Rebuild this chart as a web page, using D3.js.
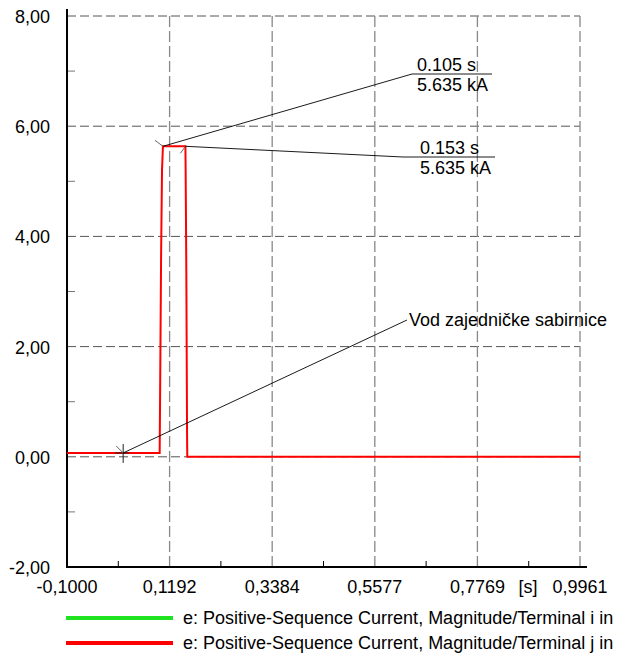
<!DOCTYPE html>
<html>
<head>
  <meta charset="utf-8">
  <title>Positive-Sequence Current</title>
  <script src="https://d3js.org/d3.v7.min.js"></script>
  <style>
    body { margin: 0; background: #fff; }
    text { font-family: "Liberation Sans", Arial, sans-serif; }
  </style>
</head>
<body>
  <svg width="625" height="658"></svg>
  <script>
    // data
    const xTicks = [-0.1, 0.1192, 0.3384, 0.5577, 0.7769, 0.9961];
    const yTicks = [-2, 0, 2, 4, 6, 8];
    const timeRed = [-0.1, 0.098, 0.099, 0.101, 0.103, 0.105, 0.153, 0.1535, 0.155, 0.1565, 0.157, 0.9961];
    const valueRed = [0.07, 0.07, 1.2, 3.6, 5.2, 5.635, 5.635, 5.2, 3.3, 0.44, 0, 0];
    const legendLabels = [
      "e: Positive-Sequence Current, Magnitude/Terminal i in",
      "e: Positive-Sequence Current, Magnitude/Terminal j in"
    ];
    const legendColors = ["#1ee31e", "#ff0000"];
    const peakMarkers = [
      { t: 0.105, v: 5.635, text: ["0.105 s", "5.635 kA"] },
      { t: 0.153, v: 5.635, text: ["0.153 s", "5.635 kA"] }
    ];
    const crossMarker = { t: 0.02, v: 0.07, text: "Vod zajedničke sabirnice" };

    const svg = d3.select("svg");
    const x = d3.scaleLinear().domain([-0.1, 0.9961]).range([67, 580]);
    const y = d3.scaleLinear().domain([-2, 8]).range([567, 16]);
    const fmt = d => d3.format(".4f")(d).replace(".", ",").replace("−", "-");
    const fmtY = d => d3.format(".2f")(d).replace(".", ",").replace("−", "-");
    const fs = 18;

    // grid
    svg.selectAll(".hgrid")
      .data(yTicks.filter(d => d > -2))
      .enter().append("line")
      .attr("x1", x(-0.1)).attr("x2", x(0.9961))
      .attr("y1", d => y(d)).attr("y2", d => y(d))
      .attr("stroke", "#555").attr("stroke-dasharray", "9,4");

    svg.selectAll(".vgrid")
      .data(xTicks.slice(1))
      .enter().append("line")
      .attr("x1", d => x(d)).attr("x2", d => x(d))
      .attr("y1", y(8)).attr("y2", y(-2))
      .attr("stroke", "#888").attr("stroke-width", 1.3).attr("stroke-dasharray", "11,4");

    // minor ticks
    svg.selectAll(".ymin")
      .data([-1, 1, 3, 5, 7])
      .enter().append("line")
      .attr("x1", 67).attr("x2", 75)
      .attr("y1", d => y(d)).attr("y2", d => y(d))
      .attr("stroke", "#777");

    const minorX = d3.range(xTicks.length - 1).map(i => (xTicks[i] + xTicks[i + 1]) / 2);
    svg.selectAll(".xmin")
      .data(minorX)
      .enter().append("line")
      .attr("x1", d => x(d)).attr("x2", d => x(d))
      .attr("y1", y(-2)).attr("y2", y(-2) - 6)
      .attr("stroke", "#000");

    // axes
    svg.append("line").attr("x1", 67).attr("x2", 67).attr("y1", 9).attr("y2", 568)
      .attr("stroke", "#000").attr("stroke-width", 2);
    svg.append("line").attr("x1", 66).attr("x2", 587).attr("y1", 567).attr("y2", 567)
      .attr("stroke", "#000").attr("stroke-width", 2);

    svg.selectAll(".ylab")
      .data(yTicks)
      .enter().append("text")
      .attr("x", 50).attr("y", d => y(d) + 7)
      .attr("text-anchor", "end").attr("font-size", fs)
      .text(fmtY);

    svg.selectAll(".xlab")
      .data(xTicks)
      .enter().append("text")
      .attr("x", d => x(d)).attr("y", 593)
      .attr("text-anchor", "middle").attr("font-size", fs)
      .text(fmt);

    svg.append("text").attr("x", 528).attr("y", 593)
      .attr("text-anchor", "middle").attr("font-size", fs).text("[s]");

    // red curve
    const line = d3.line().x(d => x(d[0])).y(d => y(d[1]));
    svg.append("path")
      .datum(d3.zip(timeRed, valueRed))
      .attr("d", line)
      .attr("fill", "none").attr("stroke", "#ff0000").attr("stroke-width", 2);

    // peak markers with labels
    const labelPos = [
      { lx: 412, ly: 74, ux: 492, tx: 417 },
      { lx: 403, ly: 157, ux: 495, tx: 420 }
    ];
    const tickDir = [[-8, -6], [-5, 7]];
    peakMarkers.forEach((m, i) => {
      const px = x(m.t), py = y(m.v);
      const p = labelPos[i];
      svg.append("line")
        .attr("x1", px).attr("y1", py)
        .attr("x2", px + tickDir[i][0]).attr("y2", py + tickDir[i][1])
        .attr("stroke", "#666");
      svg.append("polyline")
        .attr("points", [[px, py], [p.lx, p.ly], [p.ux, p.ly]].join(" "))
        .attr("fill", "none").attr("stroke", "#000").attr("stroke-width", 0.9);
      svg.append("text").attr("x", p.tx).attr("y", p.ly - 3)
        .attr("font-size", fs).text(m.text[0]);
      svg.append("text").attr("x", p.tx).attr("y", p.ly + 17)
        .attr("font-size", fs).text(m.text[1]);
    });

    // crosshair marker
    const cx = x(crossMarker.t), cy = y(crossMarker.v);
    svg.append("line").attr("x1", cx).attr("x2", cx).attr("y1", cy - 9).attr("y2", cy + 10)
      .attr("stroke", "#222");
    svg.append("line").attr("x1", cx - 8).attr("x2", cx + 6).attr("y1", cy).attr("y2", cy)
      .attr("stroke", "#222");
    svg.append("line").attr("x1", cx - 7).attr("x2", cx).attr("y1", cy - 7).attr("y2", cy)
      .attr("stroke", "#666");
    svg.append("line").attr("x1", cx).attr("y1", cy).attr("x2", 407).attr("y2", 320)
      .attr("stroke", "#000").attr("stroke-width", 0.9);
    svg.append("text").attr("x", 409).attr("y", 326)
      .attr("font-size", fs).text(crossMarker.text);

    // legend
    const leg = svg.selectAll(".leg")
      .data(legendLabels)
      .enter().append("g")
      .attr("transform", (d, i) => `translate(0,${618 + i * 25})`);
    leg.append("line").attr("x1", 66).attr("x2", 173)
      .attr("stroke", (d, i) => legendColors[i]).attr("stroke-width", 4);
    leg.append("text").attr("x", 183).attr("y", 6)
      .attr("font-size", fs).text(d => d);
  </script>
</body>
</html>
